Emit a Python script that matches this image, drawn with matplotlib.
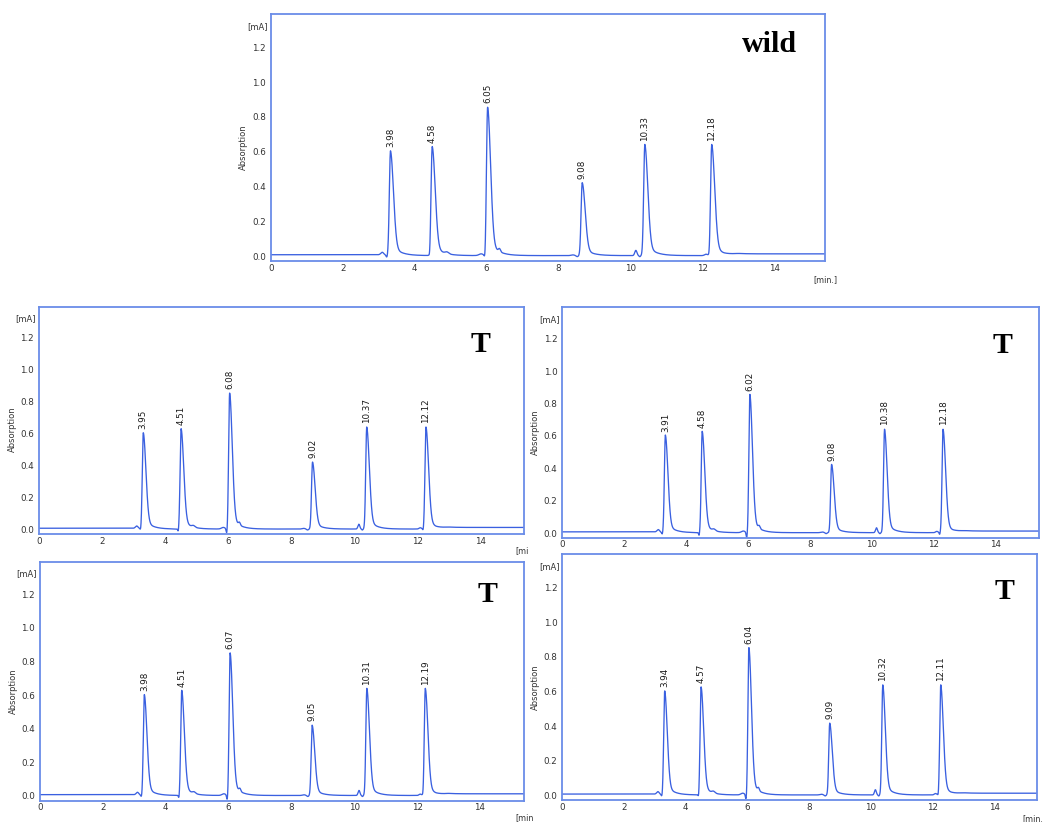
import numpy as np
import matplotlib
matplotlib.use("Agg")
import matplotlib.pyplot as plt

plt.rcParams['font.family'] = ['DejaVu Sans']

LINE = "#3a60e0"
FRAME = "#6a8ce8"
TXT = "#333333"

# panel tags, peak labels, peak positions (axis minutes), heights (mA)
tags = ["wild", "T", "T", "T", "T"]

labels_wild = ["3.98", "4.58", "6.05", "9.08", "10.33", "12.18"]
labels_t1 = ["3.95", "4.51", "6.08", "9.02", "10.37", "12.12"]
labels_t2 = ["3.91", "4.58", "6.02", "9.08", "10.38", "12.18"]
labels_t3 = ["3.98", "4.51", "6.07", "9.05", "10.31", "12.19"]
labels_t4 = ["3.94", "4.57", "6.04", "9.09", "10.32", "12.11"]

pos_wild = [3.33, 4.49, 6.03, 8.66, 10.40, 12.26]
pos_t1 = [3.31, 4.51, 6.05, 8.68, 10.40, 12.28]
pos_t2 = [3.33, 4.52, 6.06, 8.70, 10.41, 12.30]
pos_t3 = [3.32, 4.51, 6.05, 8.66, 10.40, 12.26]
pos_t4 = [3.32, 4.50, 6.05, 8.67, 10.39, 12.27]

h_wild = [0.600, 0.627, 0.853, 0.419, 0.639, 0.639]
h_t1 = [0.600, 0.627, 0.850, 0.419, 0.638, 0.638]
h_t2 = [0.600, 0.625, 0.853, 0.421, 0.638, 0.638]
h_t3 = [0.598, 0.625, 0.848, 0.418, 0.637, 0.637]
h_t4 = [0.599, 0.624, 0.851, 0.415, 0.636, 0.636]

# small baseline wiggles (time, height, width) and baseline drift
wig_t = [3.10, 3.23, 4.42, 4.90, 5.85, 5.96, 6.36, 8.40, 8.52, 10.15, 10.26, 12.10, 12.19]
wig_h = [0.015, -0.014, -0.020, 0.010, 0.010, -0.035, 0.018, 0.004, -0.006, 0.030, -0.006, 0.008, -0.012]
wig_w = [0.04, 0.02, 0.015, 0.05, 0.06, 0.02, 0.03, 0.05, 0.03, 0.03, 0.02, 0.04, 0.015]
base_t = [0, 3.0, 3.6, 12.6, 13.0, 15.4]
base_v = [0.008, 0.008, 0.003, 0.003, 0.013, 0.013]

x_ticks = [0, 2, 4, 6, 8, 10, 12, 14]
y_ticks = [0.0, 0.2, 0.4, 0.6, 0.8, 1.0, 1.2]

# axes rectangles in figure pixels (left, top, right, bottom)
W, H = 1045, 822
boxes = [(270.7, 13.7, 824.7, 261.0),
         (39.0, 306.7, 524.3, 534.0),
         (562.3, 307.3, 1039.0, 537.7),
         (40.0, 561.7, 524.0, 800.7),
         (562.3, 554.3, 1037.3, 800.3)]
tag_off = [(28, 38), (34, 45), (27, 46), (27, 40), (23, 45)]
min_txt = ["[min.]", "[mi", None, "[min", "[min."]
min_off = [(1, -19, "center"), (-9, -17, "left"), None, (-9, -17, "left"), (-15, -18, "left")]

panels = [(labels_wild, pos_wild, h_wild), (labels_t1, pos_t1, h_t1),
          (labels_t2, pos_t2, h_t2), (labels_t3, pos_t3, h_t3),
          (labels_t4, pos_t4, h_t4)]


def peak(t, t0, h, sl=0.032, sr=0.082, f=0.12, tau=0.22):
    dt = t - t0
    left = h * np.exp(-0.5 * (dt / sl) ** 2)
    right = h * ((1 - f) * np.exp(-0.5 * (dt / sr) ** 2) + f * np.exp(-np.clip(dt, 0, None) / tau))
    return np.where(dt < 0, left, right)


t = np.linspace(0, 15.4, 5000)

fig = plt.figure(figsize=(W / 100, H / 100), dpi=100)

for i, (labs, pos, hts) in enumerate(panels):
    x0, y0, x1, y1 = boxes[i]
    ax = fig.add_axes([x0 / W, 1 - y1 / H, (x1 - x0) / W, (y1 - y0) / H])

    y = np.interp(t, base_t, base_v)
    for wt, wh, ww in zip(wig_t, wig_h, wig_w):
        y = y + wh * np.exp(-0.5 * ((t - wt) / ww) ** 2)
    for p, hh in zip(pos, hts):
        y = y + peak(t, p, hh)
    ax.plot(t, y, color=LINE, lw=0.95)

    for lab, p, hh in zip(labs, pos, hts):
        ax.annotate(lab, (p, hh + 0.008), xytext=(0, 3), textcoords='offset pixels',
                    rotation=90, ha='center', va='bottom', fontsize=6.3, color="#1a1a1a")

    ax.set_xlim(0, 15.4)
    ax.set_ylim(-0.028, 1.393)
    ax.set_xticks(x_ticks)
    ax.set_yticks(y_ticks)
    ax.set_yticklabels([f"{v:.1f}" for v in y_ticks])
    ax.tick_params(axis='both', length=0, labelsize=6.3, labelcolor=TXT)
    ax.tick_params(axis='y', pad=3.5)
    ax.tick_params(axis='x', pad=2)
    for s in ax.spines.values():
        s.set_color(FRAME)
        s.set_linewidth(1.3)

    ax.annotate("[mA]", (0, 1.32), xycoords=('axes fraction', 'data'), xytext=(-3, 0),
                textcoords='offset pixels', ha='right', va='center', fontsize=6, color=TXT)
    ax.annotate("Absorption", (0, 0.46), xycoords='axes fraction', xytext=(-27, 0),
                textcoords='offset pixels', rotation=90, ha='center', va='center',
                fontsize=6, color=TXT)
    if min_txt[i]:
        dx, dy, ha = min_off[i]
        ax.annotate(min_txt[i], (1, 0), xycoords='axes fraction', xytext=(dx, dy),
                    textcoords='offset pixels', ha=ha, va='center', fontsize=5.8, color=TXT,
                    annotation_clip=False)
    dx, dy = tag_off[i]
    ax.annotate(tags[i], (1, 1), xycoords='axes fraction', xytext=(-dx, -dy),
                textcoords='offset pixels', ha='right', va='baseline',
                fontsize=21.5, fontweight='bold', family='Liberation Serif', color='black')

fig.savefig("out.png", dpi=100)
